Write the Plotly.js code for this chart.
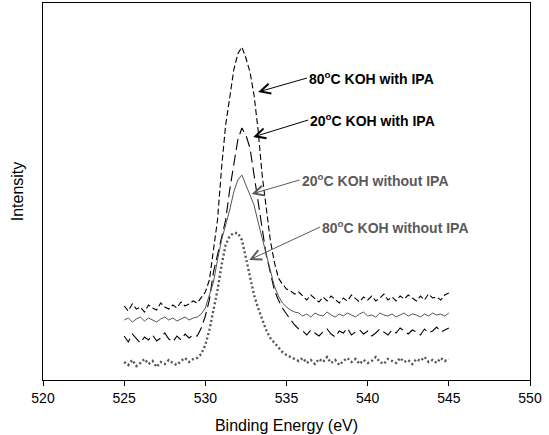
<!DOCTYPE html>
<html>
<head>
<meta charset="utf-8">
<script src="https://cdn.plot.ly/plotly-3.0.1.min.js"></script>
<style>html,body{margin:0;padding:0;background:#fff;}#chart{width:549px;height:435px;}</style>
</head>
<body>
<div id="chart"></div>
<script>
var energy = [525,525.25,525.5,525.75,526,526.25,526.5,526.75,527,527.25,527.5,527.75,528,528.25,528.5,528.75,529,529.25,529.5,529.75,530,530.25,530.5,530.75,531,531.25,531.5,531.75,532,532.25,532.5,532.75,533,533.25,533.5,533.75,534,534.25,534.5,534.75,535,535.25,535.5,535.75,536,536.25,536.5,536.75,537,537.25,537.5,537.75,538,538.25,538.5,538.75,539,539.25,539.5,539.75,540,540.25,540.5,540.75,541,541.25,541.5,541.75,542,542.25,542.5,542.75,543,543.25,543.5,543.75,544,544.25,544.5,544.75,545];

var koh80WithIPA = [74,69,76,71,73,68,75,72,70,77,73,71,75,72,78,74,76,79,
  77,82,88,100,128,160,212,255,282,310,326,333,322,308,285,250,205,170,140,118,102,96,91,89,86,
  88,84,80,85,81,78,83,79,84,80,77,82,79,85,81,78,83,80,84,79,82,86,80,83,79,84,81,85,82,79,84,80,86,82,83,80,85,87];

var koh20WithIPA = [44,38,46,41,37,43,40,45,39,42,47,41,38,44,40,46,42,45,
  44,52,64,80,108,125,142,160,190,215,240,252,245,232,205,175,148,125,108,90,80,72,66,60,55,51,
  49,45,50,47,44,48,51,46,43,49,47,52,45,48,50,46,49,44,47,51,48,45,50,47,52,49,46,50,48,45,51,47,49,53,48,50,52];

var koh20WithoutIPA = [60,62,58,61,63,59,62,60,58,61,63,60,62,59,61,63,60,62,
  63,66,72,85,98,120,140,155,170,188,200,205,195,184,175,158,142,124,107,94,84,77,73,70,68,
  67,64,66,63,67,65,64,68,65,63,66,64,67,65,63,66,68,64,65,63,67,65,64,66,63,65,67,64,66,65,63,66,64,67,65,66,64,67];

var koh80WithoutIPA = [18,15,20,14,17,21,16,19,13,18,16,20,17,15,19,22,18,21,
  22,26,35,50,70,90,115,135,144,147,147,140,122,102,85,72,60,50,42,37,32,28,25,23,21,
  19,22,17,20,16,21,18,23,17,20,15,19,22,18,21,16,20,17,19,23,18,16,21,19,17,22,18,20,16,21,19,23,18,20,17,22,19,21];

var seriesNames = ['80<sup>o</sup>C KOH with IPA','20<sup>o</sup>C KOH with IPA','20<sup>o</sup>C KOH without IPA','80<sup>o</sup>C KOH without IPA'];
var xTickVals = [520,525,530,535,540,545,550];

var traces = [
  {x: energy, y: koh80WithIPA, mode: 'lines', line: {color: '#000', width: 1.1, dash: '6px,3px'}, name: seriesNames[0]},
  {x: energy, y: koh20WithIPA, mode: 'lines', line: {color: '#000', width: 1.1, dash: '11px,5px'}, name: seriesNames[1]},
  {x: energy, y: koh20WithoutIPA, mode: 'lines', line: {color: '#555', width: 1}, name: seriesNames[2]},
  {x: energy, y: koh80WithoutIPA, mode: 'lines', line: {color: '#555', width: 2.4, dash: '2px,2.5px'}, name: seriesNames[3]}
];

function ann(text, x, y, ax, ay, color) {
  return {
    x: x, y: y, xref: 'x', yref: 'y', ax: ax, ay: ay,
    text: '<b>' + text + '</b>', showarrow: true,
    arrowhead: 5, arrowsize: 2, arrowwidth: 1, arrowcolor: color,
    xanchor: 'left', yanchor: 'middle',
    font: {family: 'Liberation Sans, Arial, sans-serif', size: 14, color: color}
  };
}

var layout = {
  width: 549, height: 435,
  margin: {l: 43, r: 19, t: 3, b: 55},
  paper_bgcolor: '#fff', plot_bgcolor: '#fff',
  showlegend: false,
  font: {family: 'Liberation Sans, Arial, sans-serif', color: '#000', size: 14},
  xaxis: {
    range: [520, 550], tickvals: xTickVals, ticktext: xTickVals.map(String),
    ticks: 'outside', ticklen: 5, tickwidth: 1, tickcolor: '#000',
    showline: true, linecolor: '#000', linewidth: 1, mirror: true,
    showgrid: false, zeroline: false,
    tickfont: {size: 14, color: '#000'},
    title: {text: 'Binding Energy (eV)', font: {size: 16, color: '#000'}, standoff: 15}
  },
  yaxis: {
    range: [0, 377], showticklabels: false, ticks: '',
    showline: true, linecolor: '#000', linewidth: 1, mirror: true,
    showgrid: false, zeroline: false,
    title: {text: 'Intensity', font: {size: 16, color: '#000'}, standoff: 14}
  },
  annotations: [
    ann(seriesNames[0], 533.25, 288, 49, -14, '#000'),
    ann(seriesNames[1], 532.95, 243, 55, -17, '#000'),
    ann(seriesNames[2], 532.85, 186, 48, -14, '#5a5a5a'),
    ann(seriesNames[3], 532.7, 120, 71, -33, '#5a5a5a')
  ]
};

Plotly.newPlot('chart', traces, layout, {displayModeBar: false, staticPlot: true});
</script>
</body>
</html>
